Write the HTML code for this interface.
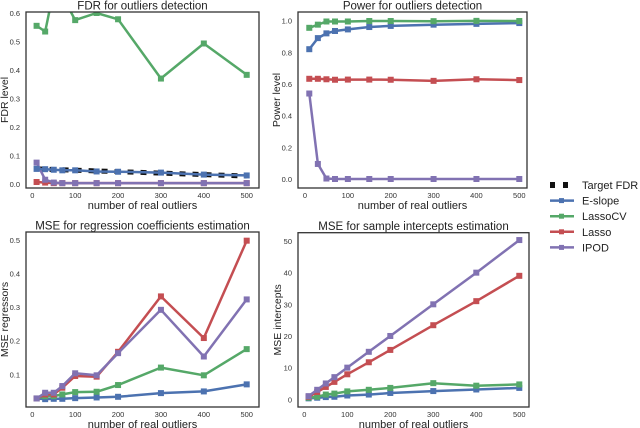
<!DOCTYPE html>
<html><head><meta charset="utf-8"><style>
body{margin:0;background:#fff;}
svg{display:block;font-family:"Liberation Sans",sans-serif;}
</style></head><body>
<svg id="fig" width="640" height="428"></svg>
<script>
const xs=[10,30,50,70,100,150,200,300,400,500];
const fdrGreen=[0.555,0.535,0.68,0.66,0.575,0.6,0.578,0.37,0.493,0.383];
const fdrBlue=[0.053,0.052,0.05,0.048,0.048,0.044,0.043,0.04,0.033,0.03];
const fdrRed=[0.007,0.005,0.003,0.003,0.003,0.003,0.003,0.003,0.003,0.003];
const fdrPurple=[0.075,0.015,0.005,0.003,0.003,0.003,0.003,0.003,0.003,0.003];
const targetX=[10,500];const targetY=[0.053,0.028];
const powGreen=[0.955,0.975,0.995,0.995,0.995,0.998,0.998,0.997,0.999,0.998];
const powBlue=[0.82,0.89,0.92,0.935,0.945,0.96,0.967,0.975,0.98,0.985];
const powRed=[0.633,0.633,0.63,0.627,0.628,0.628,0.627,0.62,0.63,0.625];
const powPurple=[0.54,0.095,0.003,0,0,0,0,0,0,0];
const regRed=[0.028,0.04,0.04,0.06,0.095,0.093,0.167,0.332,0.208,0.498];
const regPurple=[0.028,0.045,0.045,0.065,0.103,0.097,0.163,0.292,0.153,0.323];
const regGreen=[0.028,0.035,0.035,0.04,0.047,0.048,0.068,0.12,0.097,0.175];
const regBlue=[0.028,0.026,0.027,0.027,0.029,0.031,0.033,0.044,0.049,0.07];
const intPurple=[1,3,5,7,10,15,20,30,40,50.3];
const intRed=[0.8,2.3,3.9,5.5,7.9,11.7,15.6,23.4,31,39];
const intGreen=[0.5,0.8,1.5,1.8,2.5,3,3.6,5.1,4.3,4.7];
const intBlue=[0.3,0.5,0.7,0.8,1.2,1.5,2,2.6,3.1,3.6];
const xTicks=[0,100,200,300,400,500];
const fdrTicks=[0,0.1,0.2,0.3,0.4,0.5,0.6];
const powTicks=[0,0.2,0.4,0.6,0.8,1.0];
const regTicks=[0.1,0.2,0.3,0.4,0.5];
const intTicks=[0,10,20,30,40,50];
const legendNames=["Target FDR","E-slope","LassoCV","Lasso","IPOD"];
const C={blue:"#4c72b0",green:"#55a868",red:"#c44e52",purple:"#8172b2"};
const NS="http://www.w3.org/2000/svg";
const svg=document.getElementById('fig');
function mk(t,a,p){const e=document.createElementNS(NS,t);for(const k in a)e.setAttribute(k,a[k]);(p||svg).appendChild(e);return e;}
let cid=0;
function panel(o){
  const g=mk('g',{});
  
  
  const X=v=>o.x0+(v)*(o.x500-o.x0)/500;
  const Y=v=>o.yA+(v-o.vA)*(o.yB-o.yA)/(o.vB-o.vA);
  const id='clip'+(cid++);
  const cp=mk('clipPath',{id:id},g);mk('rect',{x:o.L,y:o.T,width:o.R-o.L,height:o.B-o.T},cp);
  const t=mk('text',{x:(o.L+o.R)/2,y:o.T-2.5,'text-anchor':'middle','font-size':11.5,fill:'#222'},g);t.textContent=o.title;
  
  
  xTicks.forEach(v=>{const e=mk('text',{x:X(v),y:o.B+10,'text-anchor':'middle','font-size':7.5,fill:'#333'},g);e.textContent=v;
    
    });
  o.ticks.forEach(v=>{const e=mk('text',{x:o.L-6,y:Y(v)+3,'text-anchor':'end','font-size':7.5,fill:'#333'},g);e.textContent=o.fmt(v);
    
    });
  const xl=mk('text',{x:(o.L+o.R)/2,y:o.B+21,'text-anchor':'middle','font-size':11,fill:'#222'},g);xl.textContent='number of real outliers';
  
  
  const yl=mk('text',{x:0,y:0,'text-anchor':'middle','font-size':10.5,fill:'#222',transform:`translate(${o.ylx},${(o.T+o.B)/2}) rotate(-90)`},g);yl.textContent=o.ylabel;
  
  
  const pg=mk('g',{'clip-path':`url(#${id})`},g);
  if(o.target){
    const l=mk('line',{x1:X(targetX[0]),y1:Y(targetY[0]),x2:X(targetX[1]),y2:Y(targetY[1]),stroke:'#111','stroke-width':5,'stroke-dasharray':'6 7'},pg);
    
    
  }
  o.series.forEach(s=>{
    const pts=xs.map((x,i)=>X(x).toFixed(1)+','+Y(s.d[i]).toFixed(1)).join(' ');
    const pl=mk('polyline',{points:pts,fill:'none',stroke:s.c,'stroke-width':2.5,'stroke-linejoin':'round'},pg);
    
    
    xs.forEach((x,i)=>{const r=mk('rect',{x:X(x)-3,y:Y(s.d[i])-3,width:6,height:6,fill:s.c},pg);
      
      });
  });
  const fr=mk('rect',{x:o.L,y:o.T,width:o.R-o.L,height:o.B-o.T,fill:'none',stroke:'#333','stroke-width':1.3},g);
  
  
}
panel({name:'fdr-panel',title:'FDR for outliers detection',ylabel:'FDR level',L:26,R:259,T:12,B:188,x0:32.3,x500:246.7,vA:0,yA:184,vB:0.6,yB:13,ticks:fdrTicks,fmt:v=>v.toFixed(1),ylx:8,target:true,
  series:[{n:'lassocv',c:C.green,d:fdrGreen},{n:'lasso',c:C.red,d:fdrRed},{n:'ipod',c:C.purple,d:fdrPurple},{n:'e-slope',c:C.blue,d:fdrBlue}]});
panel({name:'power-panel',title:'Power for outliers detection',ylabel:'Power level',L:298,R:527,T:12,B:188,x0:305,x500:519.3,vA:0,yA:179,vB:1,yB:20.7,ticks:powTicks,fmt:v=>v.toFixed(1),ylx:280,
  series:[{n:'lasso',c:C.red,d:powRed},{n:'ipod',c:C.purple,d:powPurple},{n:'e-slope',c:C.blue,d:powBlue},{n:'lassocv',c:C.green,d:powGreen}]});
panel({name:'mse-regressors-panel',title:'MSE for regression coefficients estimation',ylabel:'MSE regressors',L:26,R:259,T:232,B:407,x0:32.3,x500:246.7,vA:0.1,yA:374.3,vB:0.5,yB:240,ticks:regTicks,fmt:v=>v.toFixed(1),ylx:8,
  series:[{n:'e-slope',c:C.blue,d:regBlue},{n:'lassocv',c:C.green,d:regGreen},{n:'lasso',c:C.red,d:regRed},{n:'ipod',c:C.purple,d:regPurple}]});
panel({name:'mse-intercepts-panel',title:'MSE for sample intercepts estimation',ylabel:'MSE intercepts',L:298,R:529,T:232.7,B:407,x0:304.3,x500:519.3,vA:0,yA:399.3,vB:50,yB:241,ticks:intTicks,fmt:v=>v,ylx:281,
  series:[{n:'e-slope',c:C.blue,d:intBlue},{n:'lassocv',c:C.green,d:intGreen},{n:'lasso',c:C.red,d:intRed},{n:'ipod',c:C.purple,d:intPurple}]});
const lg=mk('g',{});


const lc=[null,C.blue,C.green,C.red,C.purple];
legendNames.forEach((n,i)=>{
  const y=185+i*15.6;
  const e=mk('g',{},lg);
  
  
  if(i===0){mk('rect',{x:550,y:y-3,width:5,height:6,fill:'#111'},e);mk('rect',{x:563,y:y-3,width:5,height:6,fill:'#111'},e);}
  else{mk('line',{x1:550,y1:y,x2:574,y2:y,stroke:lc[i],'stroke-width':2.5},e);mk('rect',{x:559,y:y-2.5,width:5,height:5,fill:lc[i]},e);}
  const t=mk('text',{x:582,y:y+4,'font-size':11,fill:'#222'},e);t.textContent=n;
});
</script>
</body></html>
